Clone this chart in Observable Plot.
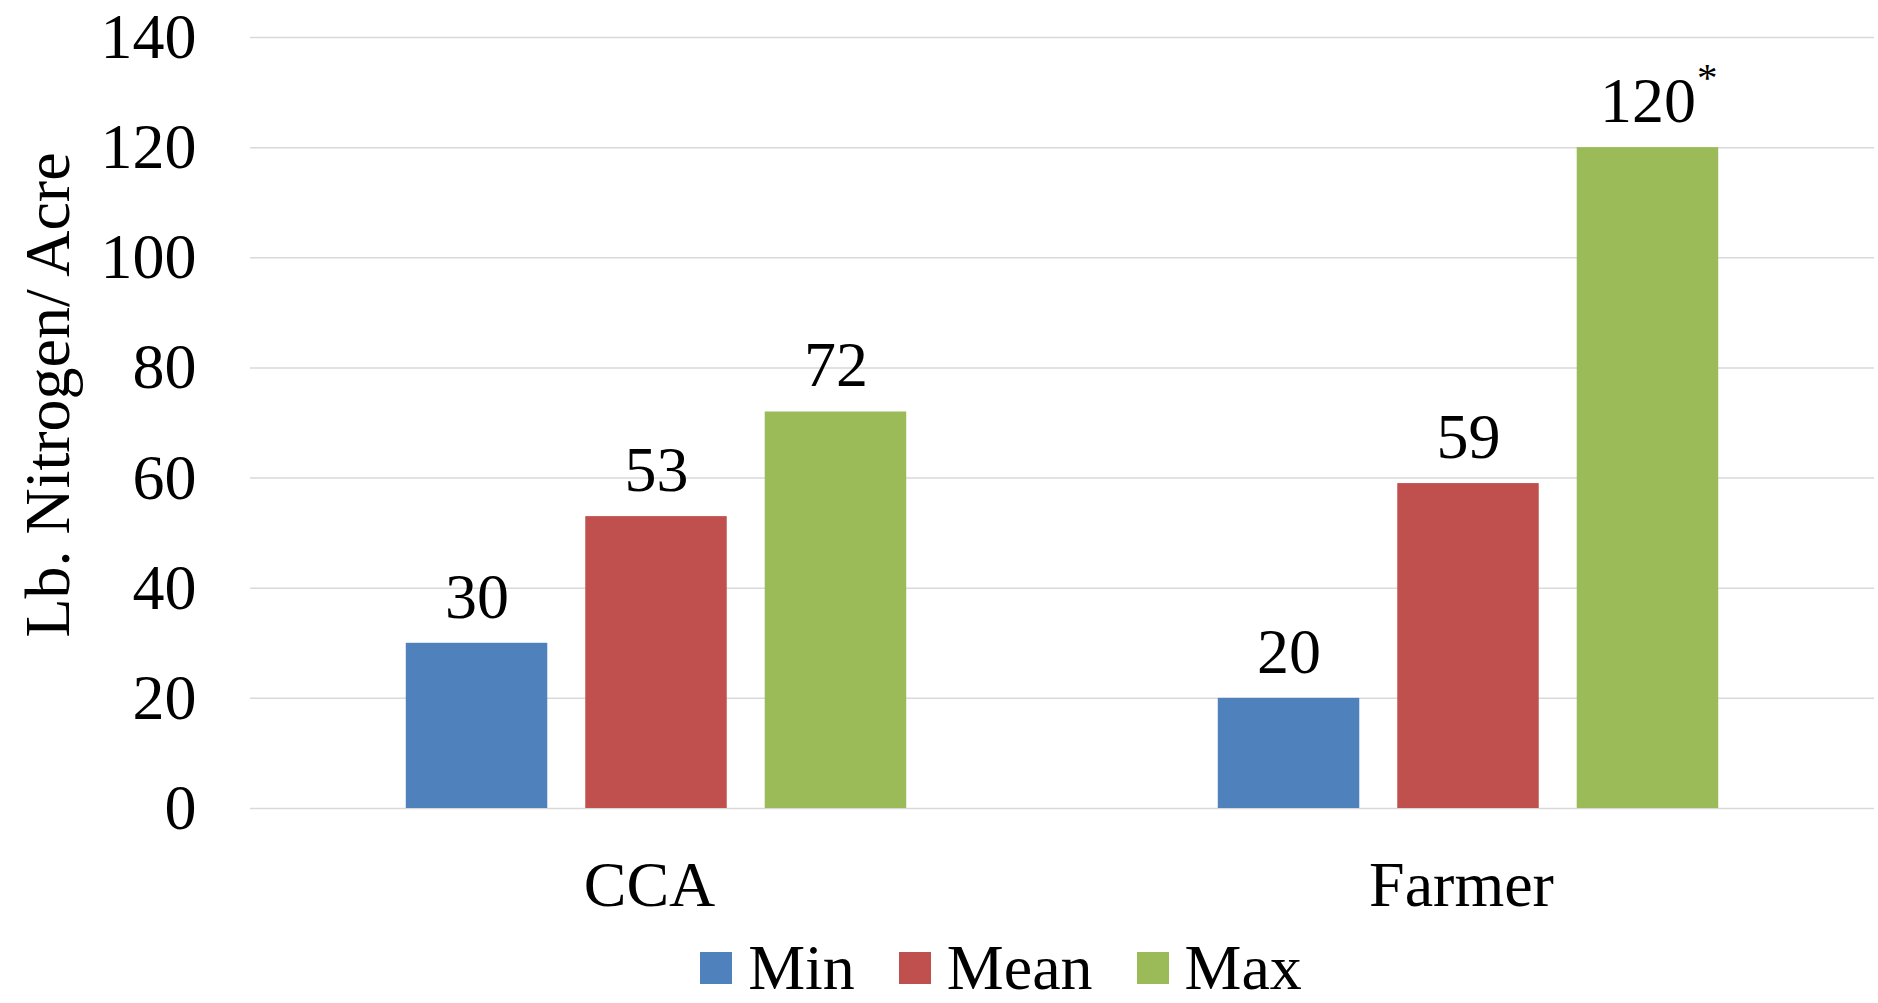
<!DOCTYPE html>
<html><head><meta charset="utf-8">
<script src="https://cdn.jsdelivr.net/npm/d3@7"></script>
<script src="https://cdn.jsdelivr.net/npm/@observablehq/plot@0.6"></script>
<style>
body{margin:0;background:#fff;overflow:hidden;}
#legend{display:flex;justify-content:center;align-items:center;padding-left:124px;margin-top:-2px;height:44px;font-family:'Liberation Serif','Times New Roman',serif;font-size:64px;line-height:44px;color:#000;}
.item{display:flex;align-items:center;margin:0 22px;}
.sw{width:32px;height:32px;margin-right:16px;}
.item span{display:block;height:44px;line-height:44px;}
</style></head><body>
<div id="chart"></div><div id="legend"></div>
<script>
const groups = ["CCA", "Farmer"];
const series = ["Min", "Mean", "Max"];
const ccaValues = [30, 53, 72];
const farmerValues = [20, 59, 120];
const ccaNotes = ["", "", ""];
const farmerNotes = ["", "", "*"];
const colors = ["#4F81BD", "#C0504D", "#9BBB59"];
const yTicks = [0, 20, 40, 60, 80, 100, 120, 140];
const yLabel = "Lb. Nitrogen/ Acre";

const valuesByGroup = [ccaValues, farmerValues];
const notesByGroup = [ccaNotes, farmerNotes];
const rows = [];
groups.forEach((g, gi) => series.forEach((s, si) => rows.push({
  group: g, series: s, value: valuesByGroup[gi][si], label: String(valuesByGroup[gi][si]), note: notesByGroup[gi][si]
})));

const font = "'Liberation Serif','Times New Roman',serif";
const plot = Plot.plot({
  width: 1878,
  height: 948,
  marginTop: 37,
  marginBottom: 140,
  marginLeft: 249,
  marginRight: 4,
  style: {fontFamily: font, fontSize: "64px", color: "#000", background: "#fff", overflow: "visible"},
  facet: {data: rows, x: "group"},
  fx: {domain: groups, padding: 0, label: null},
  x: {domain: series, paddingInner: 0.2116, paddingOuter: 0.868, round: false, axis: null},
  y: {domain: [0, 140], ticks: yTicks, tickSize: 0, tickPadding: 54, label: yLabel, labelAnchor: "center", labelOffset: 227, labelArrow: false},
  color: {domain: series, range: colors},
  marks: [
    Plot.gridY(yTicks, {stroke: "#d9d9d9", strokeOpacity: 1, strokeWidth: 1.5}),
    Plot.barY(rows, {x: "series", y: "value", fill: "series"}),
    Plot.text(rows, {x: "series", y: "value", text: "label", dy: -46, lineAnchor: "middle", fontSize: 64, fill: "#000"}),
    Plot.text(rows, {x: "series", y: "value", text: "note", dx: 49, dy: -70, textAnchor: "start", lineAnchor: "middle", fontSize: 41, fill: "#000"}),
    Plot.axisFx({anchor: "bottom", tickSize: 0, tickPadding: 52, dx: -7, label: null, fontSize: 64})
  ]
});
document.getElementById("chart").appendChild(plot);
const lab = plot.querySelector('[aria-label="y-axis label"]');
if (lab) lab.setAttribute("transform", (lab.getAttribute("transform") || "") + " translate(0,-28)");

const legend = d3.select("#legend");
series.forEach((s, i) => {
  const it = legend.append("div").attr("class", "item");
  it.append("div").attr("class", "sw").style("background", colors[i]);
  it.append("span").text(s);
});
</script>
</body></html>
